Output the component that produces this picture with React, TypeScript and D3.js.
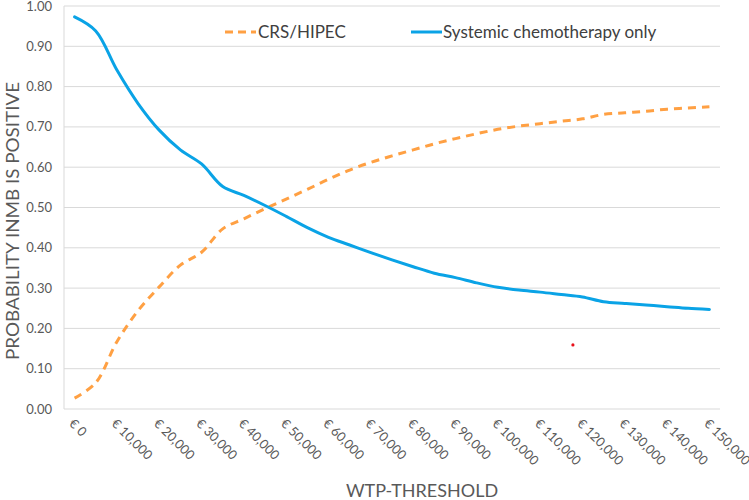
import { useRef, useEffect } from "react";
import * as d3 from "d3";

// WTP thresholds in steps of 5,000
const thresholds = d3.range(0, 150001, 5000);

const crsHipec = [
  0.027, 0.065, 0.167, 0.244, 0.303, 0.357, 0.389, 0.447, 0.472, 0.497,
  0.521, 0.545, 0.57, 0.593, 0.612, 0.628, 0.643, 0.658, 0.671, 0.683,
  0.694, 0.702, 0.708, 0.714, 0.72, 0.731, 0.735, 0.739, 0.744, 0.747, 0.75,
];

const systemic = [
  0.973, 0.938, 0.841, 0.758, 0.692, 0.643, 0.608, 0.552, 0.53, 0.505,
  0.478, 0.45, 0.426, 0.407, 0.388, 0.37, 0.353, 0.337, 0.326, 0.313,
  0.302, 0.295, 0.29, 0.284, 0.278, 0.266, 0.262, 0.258, 0.254, 0.25, 0.247,
];

// the stray red dot that sits in the original picture
const strayDot = { x: 117750, y: 0.159 };

const yTicks = d3.range(0, 1.0001, 0.1);

const FONT = "Lato, 'Open Sans', sans-serif";

interface Pt {
  t: number;
  v: number;
}

const App = () => {
  const ref = useRef<SVGSVGElement | null>(null);
  const w = 749;
  const h = 500;
  const left = 64;
  const right = 720;
  const top = 6;
  const bottom = 409;

  useEffect(() => {
    const svg = d3.select(ref.current);
    svg.selectAll("*").remove();

    const x = d3
      .scalePoint<number>()
      .domain(thresholds)
      .range([left, right])
      .padding(0.5);

    const y = d3.scaleLinear().domain([0, 1]).range([bottom, top]);

    // gridlines
    svg
      .append("g")
      .selectAll("line")
      .data(yTicks)
      .enter()
      .append("line")
      .attr("x1", left)
      .attr("x2", right)
      .attr("y1", (d) => y(d))
      .attr("y2", (d) => y(d))
      .attr("stroke", "#d9d9d9")
      .attr("stroke-width", 1);

    // vertical axis line
    svg
      .append("line")
      .attr("x1", left)
      .attr("x2", left)
      .attr("y1", top)
      .attr("y2", bottom)
      .attr("stroke", "#d9d9d9");

    // y tick labels
    svg
      .append("g")
      .selectAll("text")
      .data(yTicks)
      .enter()
      .append("text")
      .attr("x", left - 12)
      .attr("y", (d) => y(d))
      .attr("dy", "0.35em")
      .attr("text-anchor", "end")
      .attr("font-family", FONT)
      .attr("font-size", 13)
      .attr("fill", "#595959")
      .text((d) => d3.format(".2f")(d));

    // x tick labels, every 10,000, rotated
    const xLabels = thresholds.filter((t) => t % 10000 === 0);
    svg
      .append("g")
      .selectAll("text")
      .data(xLabels)
      .enter()
      .append("text")
      .attr(
        "transform",
        (d) => `translate(${(x(d) as number) - 3},${bottom + 12}) rotate(45)`
      )
      .attr("dy", "0.35em")
      .attr("font-family", FONT)
      .attr("font-size", 13)
      .attr("fill", "#595959")
      .text((d) => "€ " + d3.format(",")(d));

    const line = d3
      .line<Pt>()
      .x((d) => x(d.t) as number)
      .y((d) => y(d.v))
      .curve(d3.curveCatmullRom.alpha(0.5));

    const sysPts = thresholds.map((t, i) => ({ t, v: systemic[i] }));
    const crsPts = thresholds.map((t, i) => ({ t, v: crsHipec[i] }));

    svg
      .append("path")
      .attr("d", line(crsPts))
      .attr("fill", "none")
      .attr("stroke", "#ffa043")
      .attr("stroke-width", 3)
      .attr("stroke-dasharray", "8,6");

    svg
      .append("path")
      .attr("d", line(sysPts))
      .attr("fill", "none")
      .attr("stroke", "#0aa3e6")
      .attr("stroke-width", 3)
      .attr("stroke-linecap", "round");

    // red dot
    const xc = d3
      .scaleLinear()
      .domain([0, 150000])
      .range([x(0) as number, x(150000) as number]);
    svg
      .append("circle")
      .attr("cx", xc(strayDot.x))
      .attr("cy", y(strayDot.y))
      .attr("r", 1.6)
      .attr("fill", "#e8101a");

    // legend
    const lg = svg
      .append("g")
      .attr("font-family", FONT)
      .attr("font-size", 17)
      .attr("fill", "#404040");
    lg.append("line")
      .attr("x1", 225)
      .attr("x2", 256)
      .attr("y1", 32)
      .attr("y2", 32)
      .attr("stroke", "#ffa043")
      .attr("stroke-width", 3)
      .attr("stroke-dasharray", "8,5");
    lg.append("text")
      .attr("x", 258)
      .attr("y", 32)
      .attr("dy", "0.35em")
      .text("CRS/HIPEC");
    lg.append("line")
      .attr("x1", 411)
      .attr("x2", 442)
      .attr("y1", 32)
      .attr("y2", 32)
      .attr("stroke", "#0aa3e6")
      .attr("stroke-width", 3);
    lg.append("text")
      .attr("x", 443)
      .attr("y", 32)
      .attr("dy", "0.35em")
      .text("Systemic chemotherapy only");

    // axis titles
    svg
      .append("text")
      .attr("transform", `translate(19,221) rotate(-90)`)
      .attr("text-anchor", "middle")
      .attr("font-family", FONT)
      .attr("font-size", 17)
      .attr("fill", "#595959")
      .attr("textLength", 278)
      .attr("lengthAdjust", "spacingAndGlyphs")
      .text("PROBABILITY INMB IS POSITIVE");

    svg
      .append("text")
      .attr("x", 422)
      .attr("y", 497)
      .attr("text-anchor", "middle")
      .attr("font-family", FONT)
      .attr("font-size", 18)
      .attr("fill", "#595959")
      .text("WTP-THRESHOLD");
  }, []);

  return (
    <svg
      ref={ref}
      width={w}
      height={h}
      style={{ position: "absolute", left: 0, top: 0, background: "#fff" }}
    />
  );
};

export default App;
